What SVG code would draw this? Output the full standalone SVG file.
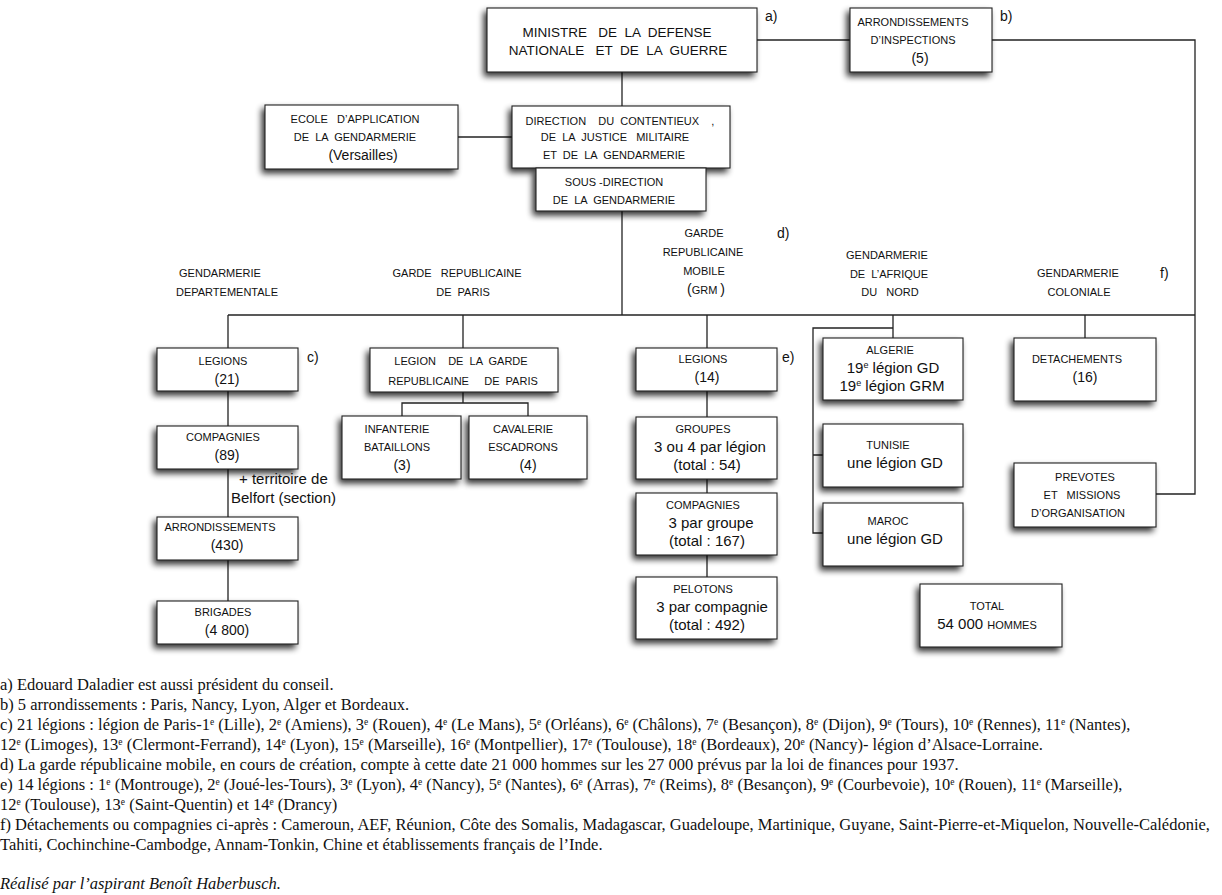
<svg xmlns="http://www.w3.org/2000/svg" width="1222" height="895" viewBox="0 0 1222 895">
<defs>
<filter id="sh" x="-25%" y="-25%" width="150%" height="160%">
<feGaussianBlur in="SourceAlpha" stdDeviation="3"/>
<feOffset dx="-3" dy="4" result="b"/>
<feComponentTransfer in="b" result="c"><feFuncA type="linear" slope="0.8"/></feComponentTransfer>
<feMerge><feMergeNode in="c"/><feMergeNode in="SourceGraphic"/></feMerge>
</filter>
<style>
.box{fill:#fff;stroke:#222;stroke-width:1.1;filter:url(#sh)}
.ln{stroke:#222;stroke-width:1.3;fill:none}
text{font-family:"Liberation Sans",Arial,sans-serif;fill:#111;white-space:pre}
.t{font-size:11px;text-anchor:middle}
.m{font-size:14px;text-anchor:middle}
.l{font-size:15px;text-anchor:middle}
.k{font-size:14px}
.fn{font-family:"Liberation Serif","Times New Roman",serif;font-size:16.5px}
.it{font-style:italic}
.s{font-size:9.5px;baseline-shift:super}
</style>
</defs>

<g id="connectors">
<path class="ln" d="M622,72 V106"/>
<path class="ln" d="M757,40 H850"/>
<path class="ln" d="M992,40 H1195 V494 H1156"/>
<path class="ln" d="M458,137 H512"/>
<path class="ln" d="M622,211 V315"/>
<path class="ln" d="M228,315 H1195"/>
<path class="ln" d="M228,315 V348 M463,315 V348 M707,315 V348 M893,315 V338 M1085,315 V338"/>
<path class="ln" d="M893,328 H813 V533 H823 M813,455 H823"/>
<path class="ln" d="M228,391 V426 M228,469 V517 M228,560 V601"/>
<path class="ln" d="M463,392 V403 M402,416 V403 H528 V416"/>
<path class="ln" d="M707,391 V417 M707,479 V493 M707,555 V577"/>
</g>

<g id="ministre">
<rect class="box" x="487" y="8" width="270" height="64"/>
<text class="t" style="font-size:13.5px" x="617" y="37">MINISTRE   DE  LA  DEFENSE</text>
<text class="t" style="font-size:13.5px" x="618" y="55">NATIONALE   ET  DE  LA  GUERRE</text>
</g>
<text class="k" x="765" y="21">a)</text>

<g id="arrondissements-inspections">
<rect class="box" x="850" y="8" width="142" height="64"/>
<text class="t" x="913" y="26">ARRONDISSEMENTS</text>
<text class="t" x="913" y="44">D’INSPECTIONS</text>
<text class="m" x="920" y="63">(5)</text>
</g>
<text class="k" x="1000" y="21">b)</text>

<g id="ecole">
<rect class="box" x="265" y="105" width="193" height="64"/>
<text class="t" x="355" y="123">ECOLE   D’APPLICATION</text>
<text class="t" x="355" y="141">DE  LA  GENDARMERIE</text>
<text class="m" x="363" y="160">(Versailles)</text>
</g>

<g id="direction">
<rect class="box" x="512" y="106" width="218" height="62"/>
<text class="t" x="620" y="125">DIRECTION    DU  CONTENTIEUX    ,</text>
<text class="t" x="615" y="141">DE  LA  JUSTICE   MILITAIRE</text>
<text class="t" x="614" y="159">ET  DE  LA  GENDARMERIE</text>
</g>

<g id="sous-direction">
<rect class="box" x="536" y="168" width="170" height="43"/>
<text class="t" x="614" y="186">SOUS -DIRECTION</text>
<text class="t" x="614" y="204">DE  LA  GENDARMERIE</text>
</g>

<g id="labels">
<text class="t" x="220" y="277">GENDARMERIE</text>
<text class="t" x="227" y="296">DEPARTEMENTALE</text>
<text class="t" x="457" y="277">GARDE   REPUBLICAINE</text>
<text class="t" x="463" y="296">DE  PARIS</text>
<text class="t" x="704" y="237">GARDE</text>
<text class="t" x="703" y="256">REPUBLICAINE</text>
<text class="t" x="704" y="275">MOBILE</text>
<text class="t" x="706" y="294"><tspan style="font-size:14px">(</tspan>GRM <tspan style="font-size:14px">)</tspan></text>
<text class="k" x="777" y="238">d)</text>
<text class="t" x="887" y="259">GENDARMERIE</text>
<text class="t" x="889" y="278">DE  L’AFRIQUE</text>
<text class="t" x="890" y="296">DU   NORD</text>
<text class="t" x="1078" y="277">GENDARMERIE</text>
<text class="t" x="1079" y="296">COLONIALE</text>
<text class="k" x="1160" y="278">f)</text>
<text class="k" x="307" y="362">c)</text>
<text class="k" x="782" y="362">e)</text>
</g>

<g id="legions-21">
<rect class="box" x="157" y="348" width="141" height="43"/>
<text class="t" x="223" y="365">LEGIONS</text>
<text class="m" x="227" y="384">(21)</text>
</g>
<g id="compagnies-89">
<rect class="box" x="157" y="426" width="141" height="43"/>
<text class="t" x="223" y="441">COMPAGNIES</text>
<text class="m" x="227" y="460">(89)</text>
</g>
<text style="font-size:15px" x="239" y="484">+ territoire de</text>
<text style="font-size:15px" x="231" y="503">Belfort (section)</text>
<g id="arrondissements-430">
<rect class="box" x="157" y="517" width="141" height="43"/>
<text class="t" x="220" y="531">ARRONDISSEMENTS</text>
<text class="m" x="227" y="550">(430)</text>
</g>
<g id="brigades">
<rect class="box" x="157" y="601" width="141" height="43"/>
<text class="t" x="223" y="616">BRIGADES</text>
<text class="m" x="227" y="635">(4 800)</text>
</g>

<g id="legion-garde">
<rect class="box" x="370" y="348" width="188" height="44"/>
<text class="t" x="461" y="365">LEGION    DE  LA  GARDE</text>
<text class="t" x="463" y="385">REPUBLICAINE     DE  PARIS</text>
</g>
<g id="infanterie">
<rect class="box" x="342" y="416" width="119" height="63"/>
<text class="t" x="397" y="433">INFANTERIE</text>
<text class="t" x="397" y="451">BATAILLONS</text>
<text class="m" x="402" y="470">(3)</text>
</g>
<g id="cavalerie">
<rect class="box" x="469" y="416" width="118" height="63"/>
<text class="t" x="523" y="433">CAVALERIE</text>
<text class="t" x="523" y="451">ESCADRONS</text>
<text class="m" x="528" y="470">(4)</text>
</g>

<g id="legions-14">
<rect class="box" x="636" y="348" width="141" height="43"/>
<text class="t" x="703" y="363">LEGIONS</text>
<text class="m" x="707" y="382">(14)</text>
</g>
<g id="groupes">
<rect class="box" x="636" y="417" width="141" height="62"/>
<text class="t" x="703" y="433">GROUPES</text>
<text class="l" x="710" y="452">3 ou 4 par légion</text>
<text class="l" x="707" y="470">(total : 54)</text>
</g>
<g id="compagnies-grm">
<rect class="box" x="636" y="493" width="141" height="62"/>
<text class="t" x="703" y="509">COMPAGNIES</text>
<text class="l" x="711" y="528">3 par groupe</text>
<text class="l" x="707" y="546">(total : 167)</text>
</g>
<g id="pelotons">
<rect class="box" x="636" y="577" width="141" height="62"/>
<text class="t" x="703" y="593">PELOTONS</text>
<text class="l" x="712" y="612">3 par compagnie</text>
<text class="l" x="707" y="630">(total : 492)</text>
</g>

<g id="algerie">
<rect class="box" x="823" y="338" width="140" height="62"/>
<text class="t" x="890" y="354">ALGERIE</text>
<text class="l" x="893" y="373">19<tspan style="font-size:9px;baseline-shift:super">e</tspan> légion GD</text>
<text class="l" x="892" y="391">19<tspan style="font-size:9px;baseline-shift:super">e</tspan> légion GRM</text>
</g>
<g id="tunisie">
<rect class="box" x="823" y="424" width="140" height="63"/>
<text class="t" x="888" y="449">TUNISIE</text>
<text class="l" x="895" y="468">une légion GD</text>
</g>
<g id="maroc">
<rect class="box" x="823" y="503" width="140" height="63"/>
<text class="t" x="888" y="525">MAROC</text>
<text class="l" x="895" y="544">une légion GD</text>
</g>

<g id="detachements">
<rect class="box" x="1014" y="338" width="142" height="63"/>
<text class="t" x="1077" y="363">DETACHEMENTS</text>
<text class="m" x="1085" y="382">(16)</text>
</g>
<g id="prevotes">
<rect class="box" x="1014" y="463" width="142" height="64"/>
<text class="t" x="1085" y="481">PREVOTES</text>
<text class="t" x="1082" y="499">ET   MISSIONS</text>
<text class="t" x="1078" y="517">D’ORGANISATION</text>
</g>
<g id="total">
<rect class="box" x="920" y="584" width="142" height="63"/>
<text class="t" x="987" y="610">TOTAL</text>
<text class="l" x="987" y="629">54 000 <tspan style="font-size:11px">HOMMES</tspan></text>
</g>

<g id="notes">
<text class="fn" x="0" y="690">a) Edouard Daladier est aussi président du conseil.</text>
<text class="fn" x="0" y="710">b) 5 arrondissements : Paris, Nancy, Lyon, Alger et Bordeaux.</text>
<text class="fn" x="0" y="730">c) 21 légions : légion de Paris-1<tspan class="s">e</tspan> (Lille), 2<tspan class="s">e</tspan> (Amiens), 3<tspan class="s">e</tspan> (Rouen), 4<tspan class="s">e</tspan> (Le Mans), 5<tspan class="s">e</tspan> (Orléans), 6<tspan class="s">e</tspan> (Châlons), 7<tspan class="s">e</tspan> (Besançon), 8<tspan class="s">e</tspan> (Dijon), 9<tspan class="s">e</tspan> (Tours), 10<tspan class="s">e</tspan> (Rennes), 11<tspan class="s">e</tspan> (Nantes),</text>
<text class="fn" x="0" y="750">12<tspan class="s">e</tspan> (Limoges), 13<tspan class="s">e</tspan> (Clermont-Ferrand), 14<tspan class="s">e</tspan> (Lyon), 15<tspan class="s">e</tspan> (Marseille), 16<tspan class="s">e</tspan> (Montpellier), 17<tspan class="s">e</tspan> (Toulouse), 18<tspan class="s">e</tspan> (Bordeaux), 20<tspan class="s">e</tspan> (Nancy)- légion d’Alsace-Lorraine.</text>
<text class="fn" x="0" y="770">d) La garde républicaine mobile, en cours de création, compte à cette date 21 000 hommes sur les 27 000 prévus par la loi de finances pour 1937.</text>
<text class="fn" x="0" y="790">e) 14 légions : 1<tspan class="s">e</tspan> (Montrouge), 2<tspan class="s">e</tspan> (Joué-les-Tours), 3<tspan class="s">e</tspan> (Lyon), 4<tspan class="s">e</tspan> (Nancy), 5<tspan class="s">e</tspan> (Nantes), 6<tspan class="s">e</tspan> (Arras), 7<tspan class="s">e</tspan> (Reims), 8<tspan class="s">e</tspan> (Besançon), 9<tspan class="s">e</tspan> (Courbevoie), 10<tspan class="s">e</tspan> (Rouen), 11<tspan class="s">e</tspan> (Marseille),</text>
<text class="fn" x="0" y="810">12<tspan class="s">e</tspan> (Toulouse), 13<tspan class="s">e</tspan> (Saint-Quentin) et 14<tspan class="s">e</tspan> (Drancy)</text>
<text class="fn" x="0" y="830">f) Détachements ou compagnies ci-après : Cameroun, AEF, Réunion, Côte des Somalis, Madagascar, Guadeloupe, Martinique, Guyane, Saint-Pierre-et-Miquelon, Nouvelle-Calédonie,</text>
<text class="fn" x="0" y="850">Tahiti, Cochinchine-Cambodge, Annam-Tonkin, Chine et établissements français de l’Inde.</text>
<text class="fn it" x="0" y="889">Réalisé par l’aspirant Benoît Haberbusch.</text>
</g>
</svg>
